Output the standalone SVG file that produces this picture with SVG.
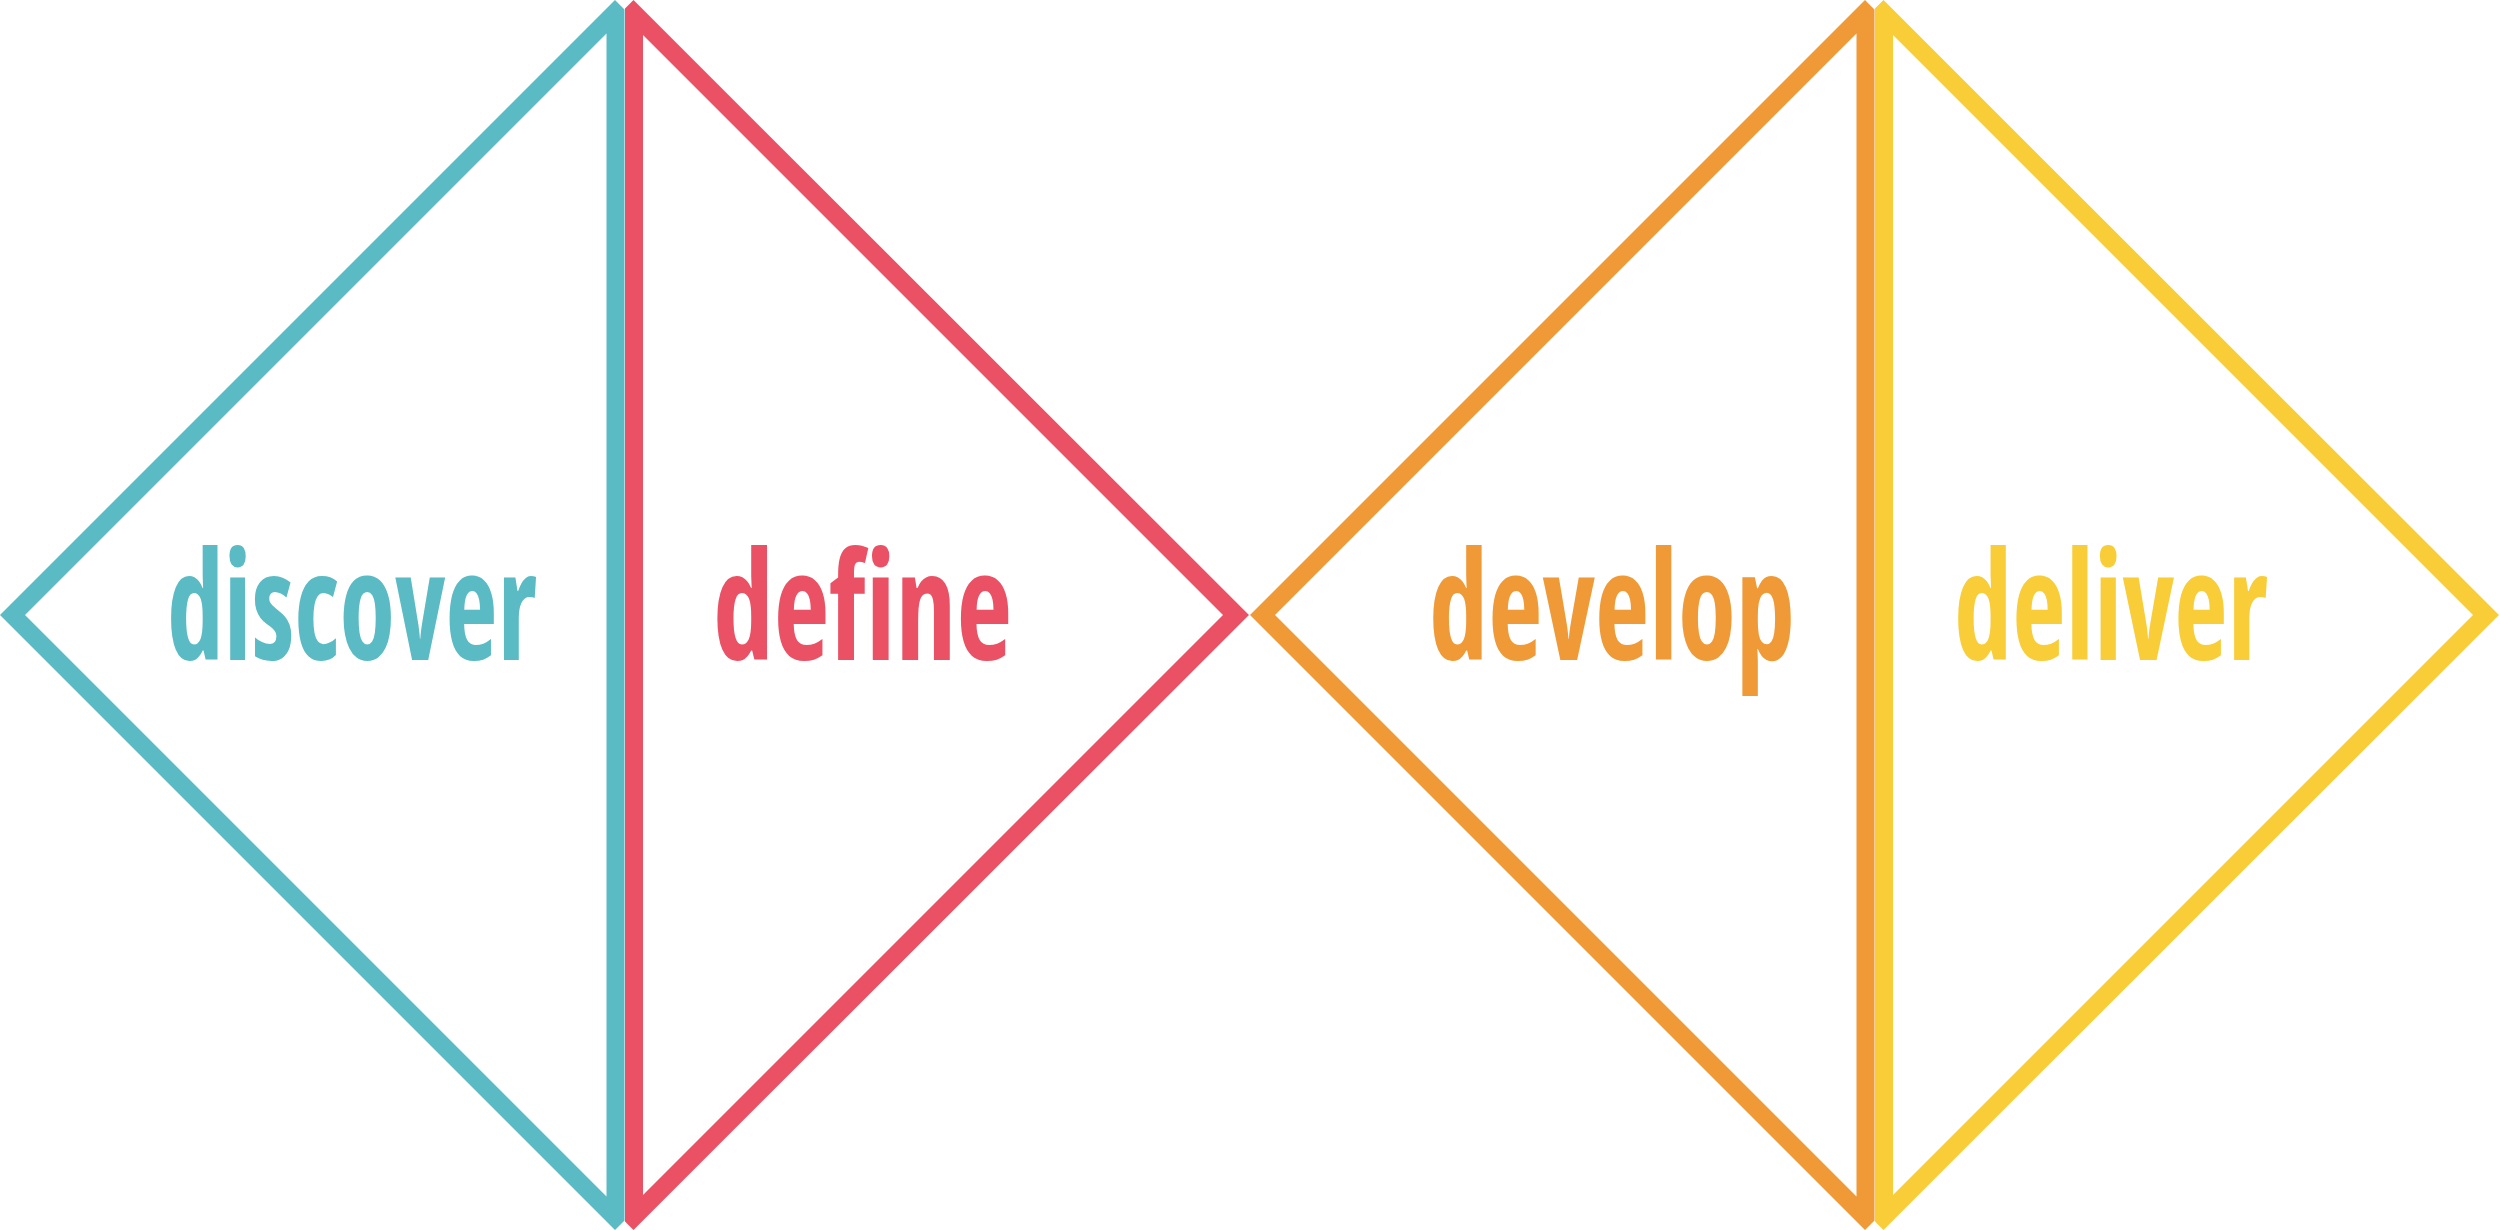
<svg xmlns="http://www.w3.org/2000/svg" width="2500" height="1230" viewBox="0 0 2500 1230">
  <style>
    .shape { fill-rule: evenodd; }
    .lbl { font-family: "Open Sans", "Liberation Sans Narrow", "Liberation Sans", sans-serif; font-stretch: condensed; font-weight: bold; font-size: 150px; }
    .teal { fill: #5abbc5; }
    .red { fill: #ea5164; }
    .orange { fill: #f09a37; }
    .yellow { fill: #f8cd37; }
  </style>
  <rect width="2500" height="1230" fill="#ffffff"/>
  <g id="discover">
    <path class="shape teal" d="M0,615 L615,0 L624.5,9.5 L624.5,1220.5 L615,1230 Z M25,615 L606.5,33.5 L606.5,1196.5 Z"/>
    <text class="lbl teal" x="167" y="660" textLength="370" lengthAdjust="spacingAndGlyphs">discover</text>
  </g>
  <g id="define">
    <path class="shape red" d="M625,8.5 L633.5,0 L1249,615 L633.5,1230 L625,1221.5 Z M643,35 L1223,615 L643,1195 Z"/>
    <text class="lbl red" x="713" y="660" textLength="299" lengthAdjust="spacingAndGlyphs">define</text>
  </g>
  <g id="develop">
    <path class="shape orange" d="M1250,615 L1865,0 L1874.5,9.5 L1874.5,1220.5 L1865,1230 Z M1275,615 L1856.5,33.5 L1856.5,1196.5 Z"/>
    <text class="lbl orange" x="1429" y="660" textLength="366" lengthAdjust="spacingAndGlyphs">develop</text>
  </g>
  <g id="deliver">
    <path class="shape yellow" d="M1875,8.5 L1883.5,0 L2499,615 L1883.5,1230 L1875,1221.5 Z M1893,35 L2473,615 L1893,1195 Z"/>
    <text class="lbl yellow" x="1954" y="660" textLength="314" lengthAdjust="spacingAndGlyphs">deliver</text>
  </g>
</svg>
